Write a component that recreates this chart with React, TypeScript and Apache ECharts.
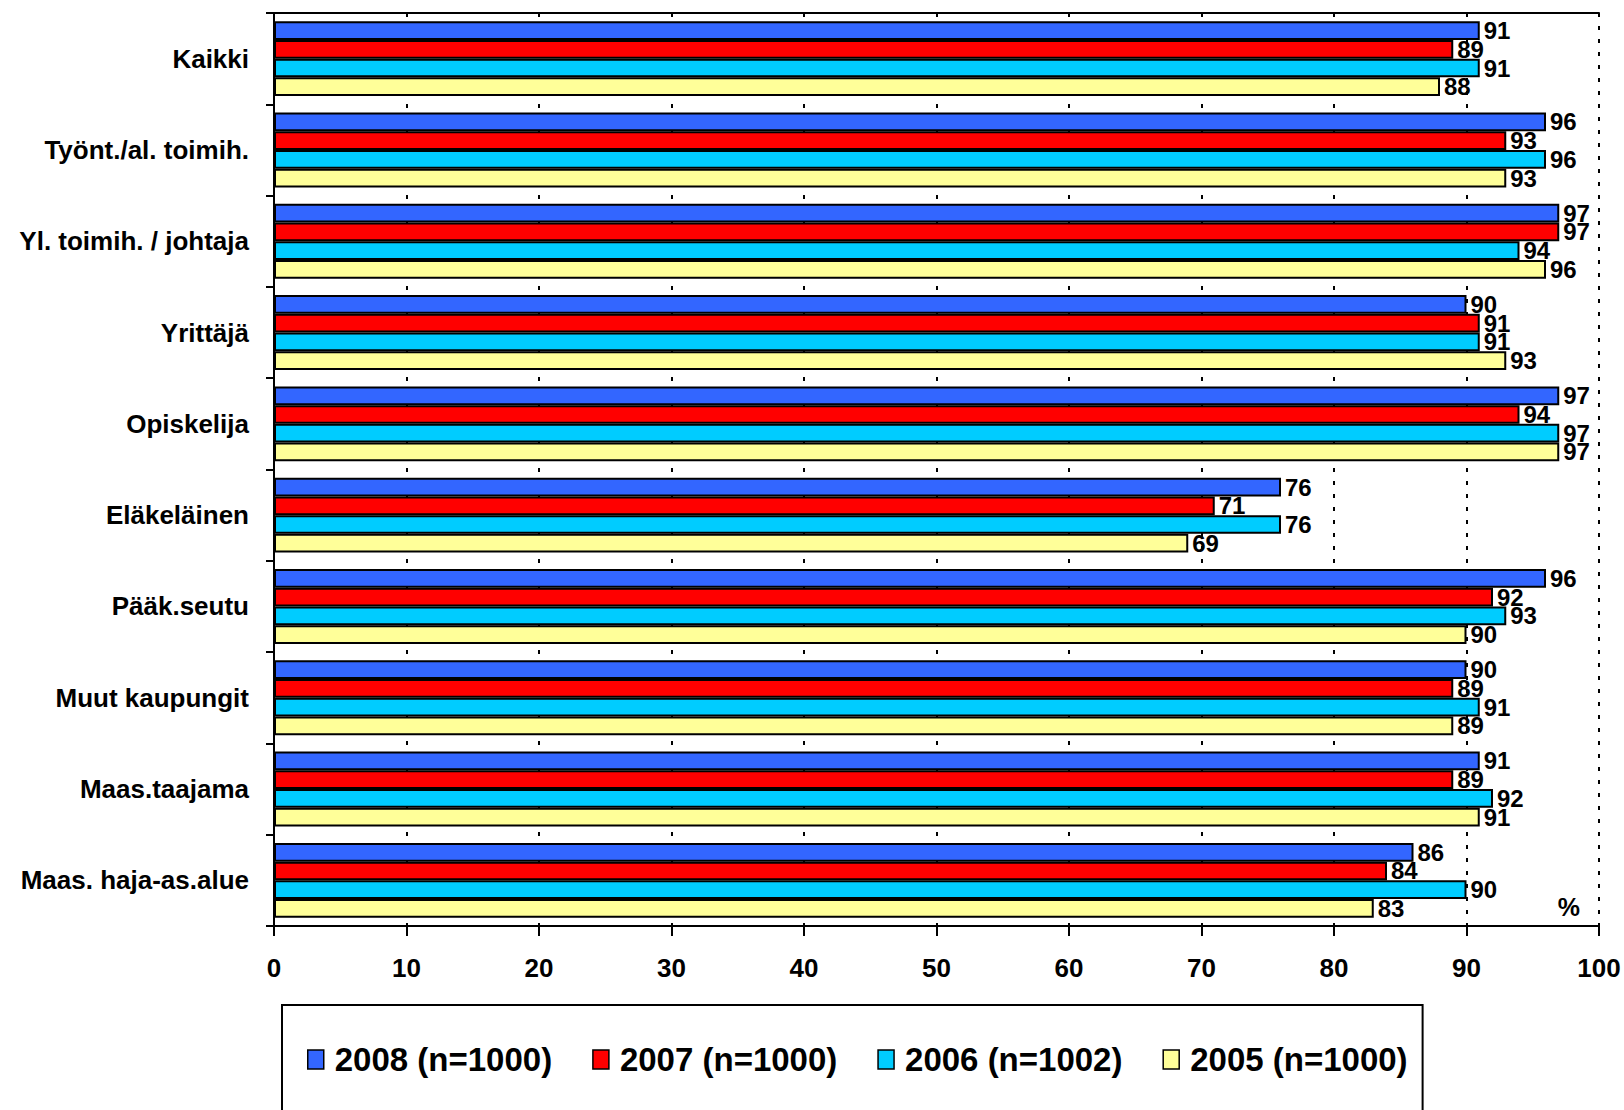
import React, { useEffect, useRef } from "react";
import * as echarts from "echarts";

const categories = [
  "Kaikki",
  "Työnt./al. toimih.",
  "Yl. toimih. / johtaja",
  "Yrittäjä",
  "Opiskelija",
  "Eläkeläinen",
  "Pääk.seutu",
  "Muut kaupungit",
  "Maas.taajama",
  "Maas. haja-as.alue",
];
const seriesNames = ["2008 (n=1000)", "2007 (n=1000)", "2006 (n=1002)", "2005 (n=1000)"];
const values2008 = [91, 96, 97, 90, 97, 76, 96, 90, 91, 86];
const values2007 = [89, 93, 97, 91, 94, 71, 92, 89, 89, 84];
const values2006 = [91, 96, 94, 91, 97, 76, 93, 91, 92, 90];
const values2005 = [88, 93, 96, 93, 97, 69, 90, 89, 91, 83];
const seriesColors = ["#3366FF", "#FF0000", "#00CCFF", "#FFFF99"];
const unitLabel = "%";

const FONT = "'Liberation Sans', Arial, sans-serif";

export default function App() {
  const ref = useRef<HTMLDivElement>(null);
  useEffect(() => {
    if (!ref.current) return;
    const chart = echarts.init(ref.current, undefined, { renderer: "svg" });
    const allValues = [values2008, values2007, values2006, values2005];
    chart.setOption({
      animation: false,
      backgroundColor: "#ffffff",
      textStyle: { fontFamily: FONT },
      grid: { left: 274, right: 25, top: 13, bottom: 184, containLabel: false },
      legend: {
        data: seriesNames,
        orient: "horizontal",
        left: 282,
        top: 1005,
        padding: [38, 15, 40, 25],
        itemGap: 40,
        itemWidth: 16,
        itemHeight: 19,
        borderColor: "#000",
        borderWidth: 2,
        icon: "rect",
        itemStyle: { borderColor: "#000", borderWidth: 1.5 },
        textStyle: { fontSize: 33, fontWeight: "bold", color: "#000", fontFamily: FONT, padding: [0, 0, 0, 6] },
      },
      xAxis: [
        {
          type: "value",
          position: "bottom",
          min: 0,
          max: 100,
          interval: 10,
          axisLine: { show: true, lineStyle: { color: "#000", width: 2 } },
          axisTick: { show: true, length: 10, lineStyle: { color: "#000", width: 2 } },
          axisLabel: { fontSize: 26, fontWeight: "bold", color: "#000", margin: 29, fontFamily: FONT },
          splitLine: { show: true, lineStyle: { color: "#000", width: 2, type: [4, 9] } },
        },
        {
          type: "value",
          position: "top",
          min: 0,
          max: 100,
          axisLine: { show: true, lineStyle: { color: "#000", width: 2 } },
          axisTick: { show: false },
          axisLabel: { show: false },
          splitLine: { show: false },
        },
      ],
      yAxis: {
        type: "category",
        data: categories,
        inverse: true,
        axisLine: { show: true, lineStyle: { color: "#000", width: 2 } },
        axisTick: { show: true, length: 8, lineStyle: { color: "#000", width: 2 } },
        axisLabel: { fontSize: 26, fontWeight: "bold", color: "#000", margin: 25, fontFamily: FONT },
      },
      graphic: [
        {
          type: "text",
          right: 44,
          top: 894,
          style: { text: unitLabel, fontSize: 25, fontWeight: "bold", fill: "#000", fontFamily: FONT },
        },
      ],
      series: seriesNames.map((name, i) => ({
        name,
        type: "bar",
        xAxisIndex: 0,
        data: allValues[i],
        barGap: "0%",
        barCategoryGap: "18%",
        itemStyle: { color: seriesColors[i], borderColor: "#000", borderWidth: 2 },
        label: {
          show: true,
          position: "right",
          distance: 4,
          fontSize: 24,
          fontWeight: "bold",
          color: "#000",
          fontFamily: FONT,
        },
      })),
    });
    return () => chart.dispose();
  }, []);
  return (
    <div
      ref={ref}
      style={{ position: "absolute", left: 0, top: 0, width: 1624, height: 1110 }}
    />
  );
}
